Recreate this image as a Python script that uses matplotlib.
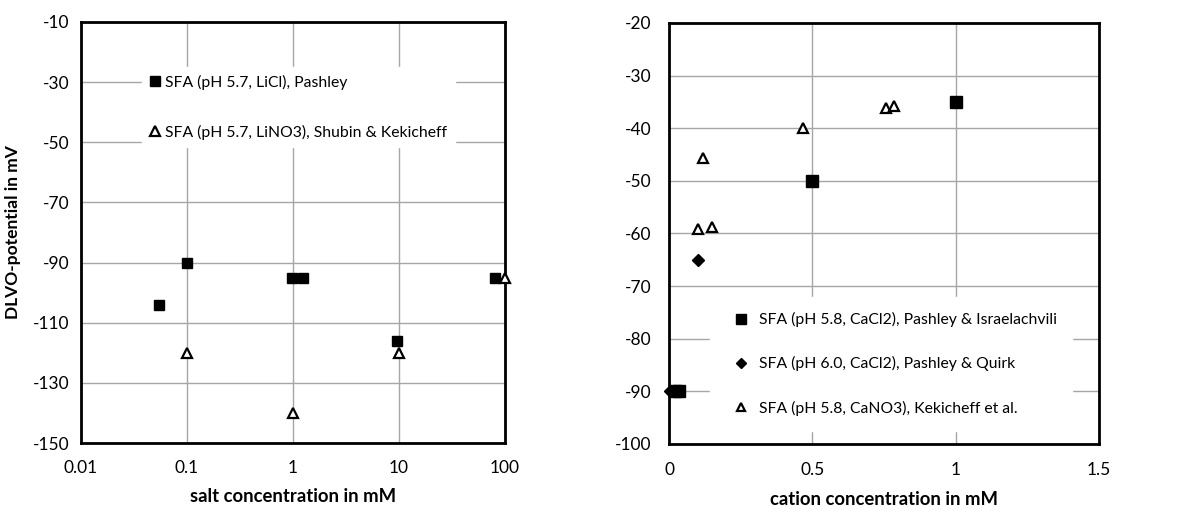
import matplotlib
matplotlib.use("Agg")
import matplotlib.pyplot as plt

plt.rcParams['font.family'] = ['Lato', 'DejaVu Sans']
plt.rcParams['axes.unicode_minus'] = False

# --- left panel: monovalent salt (log x) ---
licl_x = [0.055, 0.1, 0.97, 1.25, 9.6, 81]
licl_y = [-104, -90, -95, -95, -116, -95]
lino3_x = [0.1, 1, 10, 100]
lino3_y = [-120, -140, -120, -95]

# --- right panel: calcium salts (linear x) ---
cacl2_pi_x = [0.02, 0.035, 0.5, 1.0]
cacl2_pi_y = [-90, -90, -50, -35]
cacl2_pq_x = [0.005, 0.1]
cacl2_pq_y = [-90, -65]
cano3_x = [0.102, 0.12, 0.149, 0.467, 0.757, 0.785]
cano3_y = [-59.2, -45.7, -58.7, -40, -36.1, -35.8]

left_yticks = [-150, -130, -110, -90, -70, -50, -30, -10]
left_xticks = [0.01, 0.1, 1, 10, 100]
left_xlabels = ['0.01', '0.1', '1', '10', '100']
right_yticks = [-100, -90, -80, -70, -60, -50, -40, -30, -20]
right_xticks = [0, 0.5, 1, 1.5]
right_xlabels = ['0', '0.5', '1', '1.5']

fig = plt.figure(figsize=(11.8, 5.15), dpi=100)
ax1 = fig.add_axes([0.0686, 0.1398, 0.3593, 0.8175])
ax2 = fig.add_axes([0.567, 0.1379, 0.3644, 0.8175])

grid_kw = dict(color='#a6a6a6', linewidth=1.0)


def style_axes(ax):
    for sp in ax.spines.values():
        sp.set_linewidth(2.0)
        sp.set_color('black')
    ax.tick_params(length=0, labelsize=12.5)
    ax.grid(True, **grid_kw)
    ax.set_axisbelow(True)


# LEFT
ax1.set_xscale('log')
ax1.plot(licl_x, licl_y, 's', color='black', markersize=7.5, linestyle='none',
         label='SFA (pH 5.7, LiCl), Pashley', clip_on=False, zorder=3)
ax1.plot(lino3_x, lino3_y, '^', markerfacecolor='white', markeredgecolor='black',
         markeredgewidth=1.6, markersize=7, linestyle='none',
         label='SFA (pH 5.7, LiNO3), Shubin & Kekicheff', clip_on=False, zorder=4)
ax1.set_xlim(0.01, 100)
ax1.set_ylim(-150, -10)
ax1.set_yticks(left_yticks)
ax1.set_xticks(left_xticks)
ax1.set_xticklabels(left_xlabels)
ax1.minorticks_off()
style_axes(ax1)
ax1.tick_params(axis='y', pad=8)
ax1.tick_params(axis='x', pad=12)
ax1.set_ylabel('DLVO-potential in mV', fontsize=12.5, fontweight='bold', labelpad=9)
ax1.set_xlabel('salt concentration in mM', fontsize=13.3, fontweight='bold', labelpad=9)
leg1 = ax1.legend(loc='upper left', bbox_to_anchor=(0.144, 0.893), fontsize=11.3,
                  frameon=True, facecolor='white', edgecolor='white', framealpha=1,
                  fancybox=False, handlelength=0.6, handletextpad=0.35,
                  labelspacing=2.2, borderpad=0.5, borderaxespad=0,
                  markerscale=0.95)

# RIGHT
ax2.plot(cacl2_pi_x, cacl2_pi_y, 's', color='black', markersize=8.5, linestyle='none',
         label='SFA (pH 5.8, CaCl2), Pashley & Israelachvili', clip_on=False, zorder=3)
ax2.plot(cacl2_pq_x, cacl2_pq_y, 'D', color='black', markersize=6.5, linestyle='none',
         label='SFA (pH 6.0, CaCl2), Pashley & Quirk', clip_on=False, zorder=3)
ax2.plot(cano3_x, cano3_y, '^', markerfacecolor='white', markeredgecolor='black',
         markeredgewidth=1.6, markersize=7, linestyle='none',
         label='SFA (pH 5.8, CaNO3), Kekicheff et al.', clip_on=False, zorder=4)
ax2.set_xlim(0, 1.5)
ax2.set_ylim(-100, -20)
ax2.set_yticks(right_yticks)
ax2.set_xticks(right_xticks)
ax2.set_xticklabels(right_xlabels)
style_axes(ax2)
ax2.tick_params(axis='y', pad=13)
ax2.tick_params(axis='x', pad=13)
ax2.set_xlabel('cation concentration in mM', fontsize=13.3, fontweight='bold', labelpad=9)
leg2 = ax2.legend(loc='upper left', bbox_to_anchor=(0.095, 0.35), fontsize=11.3,
                  frameon=True, facecolor='white', edgecolor='white', framealpha=1,
                  fancybox=False, handlelength=2.0, handletextpad=0.1,
                  labelspacing=1.85, borderpad=1.0, borderaxespad=0,
                  markerscale=0.85)

fig.savefig('out.png', dpi=100)
